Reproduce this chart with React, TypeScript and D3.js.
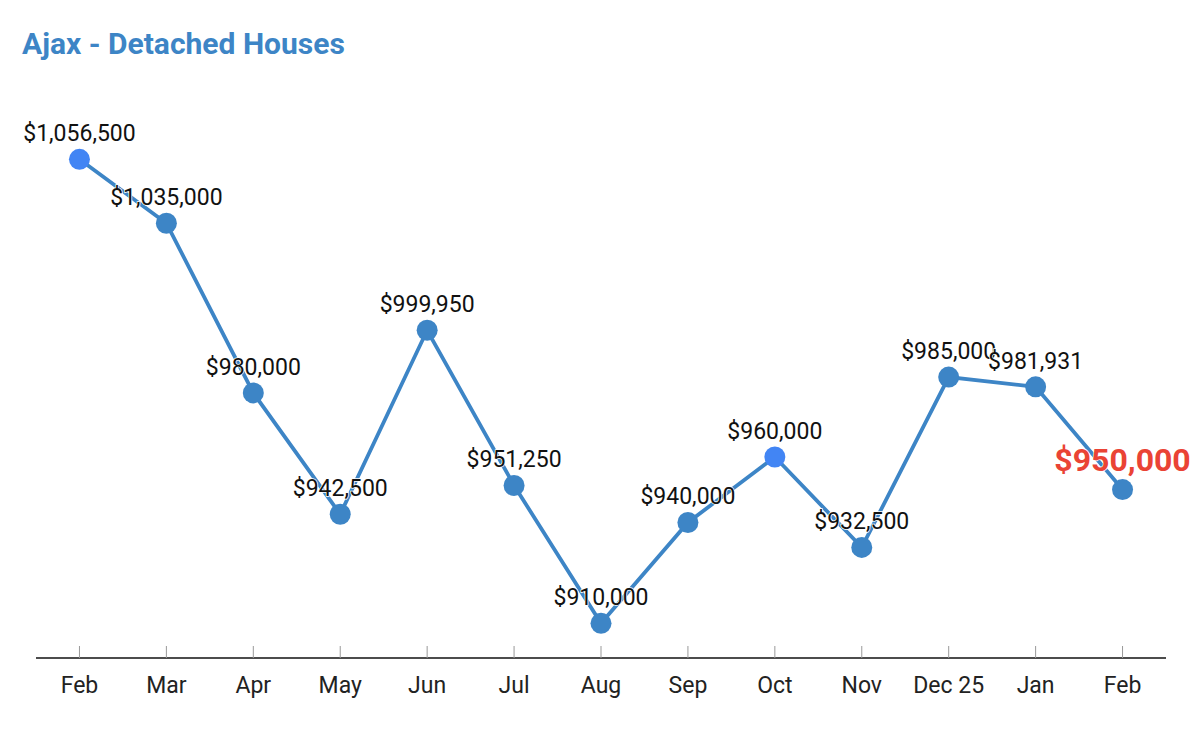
import React, { useEffect, useRef } from 'react';
import * as d3 from 'd3';

const months = ['Feb', 'Mar', 'Apr', 'May', 'Jun', 'Jul', 'Aug', 'Sep', 'Oct', 'Nov', 'Dec 25', 'Jan', 'Feb'];
const prices = [1056500, 1035000, 980000, 942500, 999950, 951250, 910000, 940000, 960000, 932500, 985000, 981931, 950000];
// points drawn in the brighter blue
const brightIdx = [0, 8];

const WIDTH = 1203;
const HEIGHT = 731;

export default function App() {
  const svgRef = useRef<SVGSVGElement>(null);

  useEffect(() => {
    if (!svgRef.current) return;
    const svg = d3.select(svgRef.current);
    svg.selectAll('*').remove();

    const font = 'Roboto, "Noto Sans", sans-serif';
    const axisY = 658;

    const x = d3.scalePoint<number>()
      .domain(d3.range(months.length))
      .range([36, 1166])
      .padding(0.5);

    const y = d3.scaleLog()
      .domain([910000, 1056500])
      .range([623.3, 159.3]);

    // Title
    svg.append('text')
      .attr('x', 22)
      .attr('y', 54)
      .attr('fill', '#3d85c6')
      .attr('font-family', font)
      .attr('font-size', '30px')
      .attr('font-weight', 'bold')
      .text('Ajax - Detached Houses');

    // X axis
    const axis = svg.append('g').attr('transform', `translate(0,${axisY})`);
    axis.append('line')
      .attr('x1', 36)
      .attr('x2', 1166)
      .attr('stroke', '#111')
      .attr('stroke-width', 1.4);

    axis.selectAll('.tick')
      .data(months)
      .enter()
      .append('line')
      .attr('class', 'tick')
      .attr('x1', (_, i) => x(i)!)
      .attr('x2', (_, i) => x(i)!)
      .attr('y1', -12)
      .attr('y2', 0)
      .attr('stroke', '#999')
      .attr('stroke-width', 1);

    axis.selectAll('.tick-label')
      .data(months)
      .enter()
      .append('text')
      .attr('class', 'tick-label')
      .attr('x', (_, i) => x(i)!)
      .attr('y', 35)
      .attr('text-anchor', 'middle')
      .attr('fill', '#222')
      .attr('font-family', font)
      .attr('font-size', '23px')
      .text(d => d);

    // Line
    const line = d3.line<number>()
      .x((_, i) => x(i)!)
      .y(d => y(d));

    svg.append('path')
      .datum(prices)
      .attr('d', line)
      .attr('fill', 'none')
      .attr('stroke', '#3d85c6')
      .attr('stroke-width', 3.8);

    // Points
    svg.selectAll('.dot')
      .data(prices)
      .enter()
      .append('circle')
      .attr('class', 'dot')
      .attr('cx', (_, i) => x(i)!)
      .attr('cy', d => y(d))
      .attr('r', 10.5)
      .attr('fill', (_, i) => brightIdx.includes(i) ? '#4285f4' : '#3d85c6');

    // Value labels
    const fmt = d3.format('$,');
    const last = prices.length - 1;
    svg.selectAll('.value')
      .data(prices)
      .enter()
      .append('text')
      .attr('class', 'value')
      .attr('x', (_, i) => x(i)!)
      .attr('y', (d, i) => y(d) - (i === last ? 19 : 18))
      .attr('text-anchor', 'middle')
      .attr('font-family', font)
      .attr('font-size', (_, i) => i === last ? '32px' : '23px')
      .attr('font-weight', (_, i) => i === last ? 'bold' : 'normal')
      .attr('fill', (_, i) => i === last ? '#ea4335' : '#111')
      .attr('stroke', '#fff')
      .attr('stroke-width', 1.5)
      .attr('paint-order', 'stroke')
      .text(d => fmt(d));
  }, []);

  return (
    <div style={{ position: 'fixed', left: 0, top: 0, background: '#fff' }}>
      <svg ref={svgRef} width={WIDTH} height={HEIGHT} />
    </div>
  );
}
